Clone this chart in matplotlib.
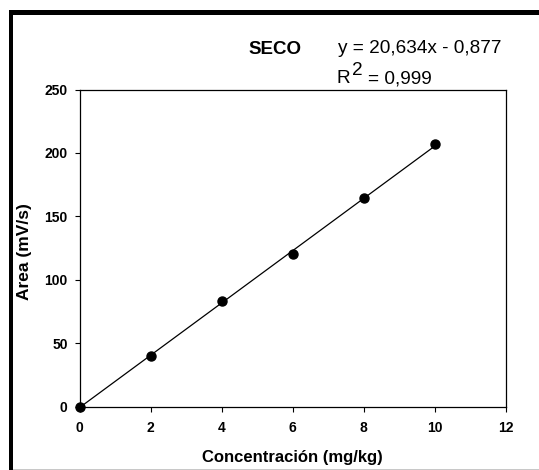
import numpy as np
import matplotlib
matplotlib.use("Agg")
import matplotlib.pyplot as plt
from matplotlib.patches import Rectangle

plt.rcParams['font.family'] = ['Liberation Sans', 'DejaVu Sans']

# data
conc = [0, 2, 4, 6, 8, 10]
area = [0, 40, 83.5, 120.5, 164.3, 207]
slope = 20.634
intercept = -0.877
eq_text = "y = 20,634x - 0,877"
r2_value = "= 0,999"
x_ticks = [0, 2, 4, 6, 8, 10, 12]
y_ticks = [0, 50, 100, 150, 200, 250]

W, H = 539, 470
fig = plt.figure(figsize=(W / 100, H / 100), dpi=100)
ax = fig.add_axes([79.5 / W, 1 - 406.5 / H, (506 - 79.5) / W, (406.5 - 89.5) / H])

# fitted line over the data range
xf = np.array([min(conc), max(conc)])
ax.plot(xf, slope * xf + intercept, color='black', lw=0.9, zorder=2)
ax.plot(conc, area, 'o', color='black', ms=6.5, zorder=3, clip_on=False)

ax.set_xlim(0, 12)
ax.set_ylim(0, 250)
ax.set_xticks(x_ticks)
ax.set_yticks(y_ticks)
ax.set_xticklabels([str(t) for t in x_ticks], fontweight='bold', fontsize=10)
ax.set_yticklabels([str(t) for t in y_ticks], fontweight='bold', fontsize=10)
ax.tick_params(direction='out', length=3.5, width=0.8, pad=5, top=False, right=False)
ax.tick_params(axis='x', pad=7)
for s in ax.spines.values():
    s.set_linewidth(0.9)

ax.set_xlabel("Concentración (mg/kg)", fontweight='bold', fontsize=12, labelpad=11)
ax.set_ylabel("Area (mV/s)", fontweight='bold', fontsize=12.5, labelpad=9)
ax.yaxis.label.set_y(0.49)

fs = 13.7
fig.text(275 / W, 1 - 54 / H, "SECO", fontweight='bold', fontsize=13.5,
         ha='center', va='baseline')
fig.text(338 / W, 1 - 53 / H, eq_text, fontsize=fs, ha='left', va='baseline')
fig.text(337 / W, 1 - 83 / H, "R", fontsize=fs, ha='left', va='baseline')
fig.text(352 / W, 1 - 75 / H, "2", fontsize=fs, ha='left', va='baseline')
fig.text(368 / W, 1 - 83 / H, r2_value, fontsize=fs, ha='left', va='baseline')

# page frame, cut off on the right
fig.patches.append(Rectangle((8.7 / W, 0), 4.5 / W, 1 - 10 / H, transform=fig.transFigure,
                             color='black', lw=0))
fig.patches.append(Rectangle((8.7 / W, 1 - 15 / H), 1, 5 / H, transform=fig.transFigure,
                             color='black', lw=0))
fig.patches.append(Rectangle((13 / W, 0), 1, 1.5 / H, transform=fig.transFigure,
                             color='#c8c8c8', lw=0))

fig.savefig("out.png", dpi=100)
